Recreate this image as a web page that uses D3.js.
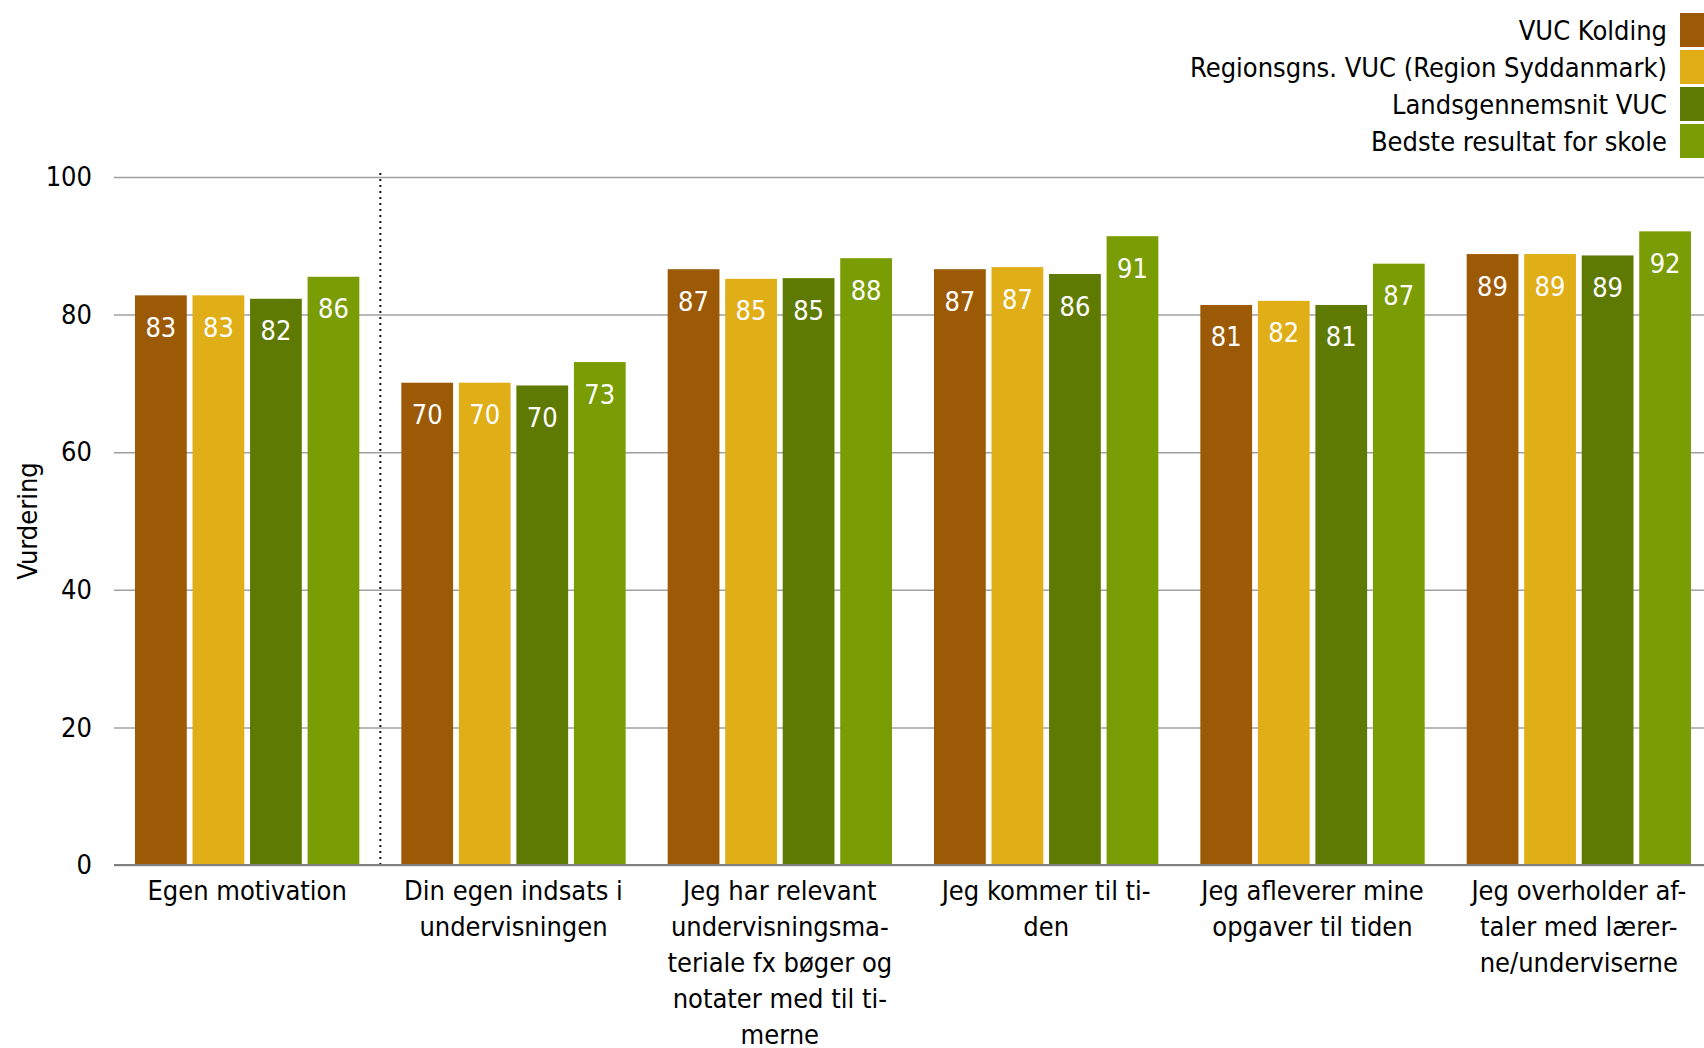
<!DOCTYPE html>
<html><head><meta charset="utf-8">
<script src="https://cdn.jsdelivr.net/npm/d3@7"></script>
<style>
html,body{margin:0;padding:0;background:#fff;}
svg{display:block;}
text{font-family:"DejaVu Sans Condensed","DejaVu Sans",sans-serif;}
</style></head>
<body>
<svg id="chart" width="1704" height="1048"></svg>
<script>
const categories = [
  "Egen motivation",
  "Din egen indsats i\nundervisningen",
  "Jeg har relevant\nundervisningsma-\nteriale fx bøger og\nnotater med til ti-\nmerne",
  "Jeg kommer til ti-\nden",
  "Jeg afleverer mine\nopgaver til tiden",
  "Jeg overholder af-\ntaler med lærer-\nne/underviserne"
];
const seriesNames = ["VUC Kolding","Regionsgns. VUC (Region Syddanmark)","Landsgennemsnit VUC","Bedste resultat for skole"];
const seriesColors = ["#9C5A06","#E0AE17","#5F7A02","#7A9C04"];
const vucKolding   = [82.8, 70.1, 86.6, 86.6, 81.4, 88.8];
const regionsgns   = [82.8, 70.1, 85.2, 86.9, 82.0, 88.8];
const landsgns     = [82.3, 69.7, 85.3, 85.9, 81.4, 88.6];
const bedste       = [85.5, 73.1, 88.2, 91.4, 87.4, 92.1];
const yTicks = [0,20,40,60,80,100];
const series = [vucKolding, regionsgns, landsgns, bedste];

const svg = d3.select("#chart");
const pLeft = 114, pRight = 1712, pTop = 177, pBottom = 865;
const FS = 27;

const x = d3.scaleBand().domain(categories).range([pLeft, pRight]).paddingInner(0).paddingOuter(0);
const x1 = d3.scaleBand().domain(d3.range(4)).range([21, x.bandwidth()-21]).paddingInner(0.1);
const y = d3.scaleLinear().domain([0,100]).range([pBottom, pTop]);

// gridlines
const yAxis = d3.axisLeft(y).tickValues(yTicks).tickSize(-(pRight-pLeft)).tickPadding(22);
const gA = svg.append("g").attr("transform",`translate(${pLeft},0)`).call(yAxis);
gA.select(".domain").remove();
gA.selectAll(".tick line").attr("stroke","#a0a0a0").attr("stroke-width",1.5);
gA.selectAll(".tick text").attr("font-size",FS).attr("fill","#000")
  .attr("font-family",'"DejaVu Sans Condensed","DejaVu Sans",sans-serif');

// dotted separator
svg.append("line")
  .attr("x1", x(categories[1])).attr("x2", x(categories[1]))
  .attr("y1", pTop-4).attr("y2", pBottom)
  .attr("stroke","#111").attr("stroke-width",2).attr("stroke-dasharray","2,4");

// bars
const groups = svg.selectAll("g.grp").data(categories).enter().append("g")
  .attr("class","grp").attr("transform",d=>`translate(${x(d)},0)`);
groups.each(function(cat, ci){
  const g = d3.select(this);
  series.forEach((s, si)=>{
    g.append("rect")
      .attr("x", x1(si)).attr("width", x1.bandwidth())
      .attr("y", y(s[ci])).attr("height", y(0)-y(s[ci]))
      .attr("fill", seriesColors[si]);
    g.append("text")
      .attr("x", x1(si)+x1.bandwidth()/2)
      .attr("y", y(s[ci])+32)
      .attr("text-anchor","middle").attr("dominant-baseline","central")
      .attr("font-size",FS).attr("fill","#fff")
      .text(Math.round(s[ci]));
  });
});

// x axis line
svg.append("line").attr("x1",pLeft).attr("x2",pRight).attr("y1",pBottom).attr("y2",pBottom)
  .attr("stroke","#808080").attr("stroke-width",2);

// category labels
const xAxis = d3.axisBottom(x).tickSize(0).tickFormat("");
svg.append("g").attr("transform",`translate(0,${pBottom})`).call(xAxis).select(".domain").remove();
categories.forEach(c=>{
  const lines = c.split("\n");
  const t = svg.append("text").attr("text-anchor","middle").attr("font-size",FS).attr("fill","#000");
  lines.forEach((l,i)=>{
    t.append("tspan").attr("x", x(c)+x.bandwidth()/2).attr("y", 890 + i*36)
      .attr("dominant-baseline","central").text(l);
  });
});

// y title
svg.append("text").attr("transform",`translate(27,${(pTop+pBottom)/2}) rotate(-90)`)
  .attr("text-anchor","middle").attr("dominant-baseline","central")
  .attr("font-size",FS).attr("fill","#000").text("Vurdering");

// legend
seriesNames.forEach((n,i)=>{
  const cy = 30 + i*37;
  svg.append("rect").attr("x",1680).attr("y",cy-17).attr("width",26).attr("height",34).attr("fill",seriesColors[i]);
  svg.append("text").attr("x",1667).attr("y",cy).attr("text-anchor","end")
    .attr("dominant-baseline","central").attr("font-size",FS).attr("fill","#000").text(n);
});
</script>
</body></html>
